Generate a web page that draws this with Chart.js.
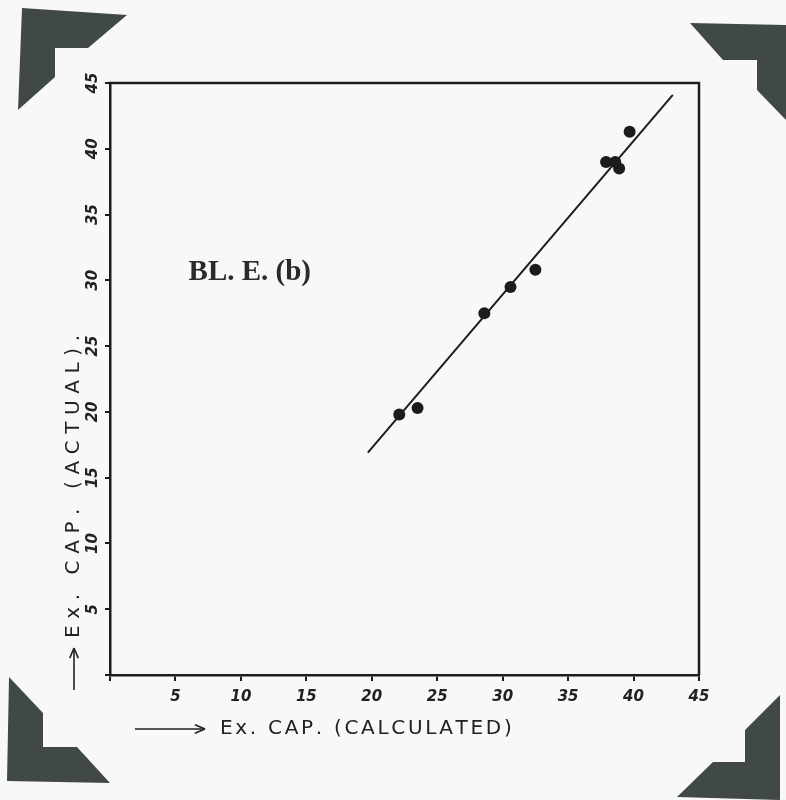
<!DOCTYPE html>
<html><head><meta charset="utf-8">
<script src="https://cdn.jsdelivr.net/npm/chart.js@4.4.1/dist/chart.umd.min.js"></script>
<style>
html,body{margin:0;padding:0;background:#f8f8f6;}
#wrap{position:relative;width:786px;height:800px;overflow:hidden;background:#f8f8f6;}
#c{position:absolute;left:0;top:0;}
.corner{position:absolute;left:0;top:0;width:786px;height:800px;background:#414944;pointer-events:none;}
</style></head><body>
<div id="wrap">
<canvas id="c" width="786" height="800"></canvas>
<div class="corner" style="clip-path:polygon(22px 8px,127px 15px,88px 48px,55px 48px,55px 77px,18px 110px)"></div>
<div class="corner" style="clip-path:polygon(690px 23px,786px 25px,786px 120px,757px 90px,757px 60px,723px 60px)"></div>
<div class="corner" style="clip-path:polygon(9px 677px,43px 713px,43px 747px,77px 747px,110px 783px,7px 781px)"></div>
<div class="corner" style="clip-path:polygon(780px 695px,780px 800px,677px 797px,713px 762px,745px 762px,745px 730px)"></div>
</div>
<script>
// ---- data ----
const calculated = [22.1, 23.5, 28.6, 30.6, 32.5, 37.9, 38.6, 38.9, 39.7];
const actual     = [19.8, 20.3, 27.5, 29.5, 30.8, 39.0, 39.0, 38.5, 41.3];
const fitX = [19.7, 43.0];
const fitY = [16.9, 44.1];
const axisMin = 0, axisMax = 45, axisStep = 5;
const xTitle = 'Ex. CAP. (CALCULATED)';
const yTitle = 'Ex. CAP. (ACTUAL).';
const plotLabel = 'BL. E. (b)';
const plotLabelAt = [6.0, 30.6];

const ink = '#1c1c1c';
const points = calculated.map((x, i) => ({x, y: actual[i]}));
const fitLine = fitX.map((x, i) => ({x, y: fitY[i]}));

function spacedText(ctx, text, x, y, spacing) {
  let cx = x;
  for (const ch of text) {
    ctx.fillText(ch, cx, y);
    cx += ctx.measureText(ch).width + spacing;
  }
  return cx;
}
function arrow(ctx, x1, y1, x2, y2) {
  const ang = Math.atan2(y2 - y1, x2 - x1);
  ctx.beginPath();
  ctx.moveTo(x1, y1); ctx.lineTo(x2, y2);
  ctx.stroke();
  ctx.beginPath();
  ctx.moveTo(x2, y2);
  ctx.lineTo(x2 - 11 * Math.cos(ang - 0.4), y2 - 11 * Math.sin(ang - 0.4));
  ctx.moveTo(x2, y2);
  ctx.lineTo(x2 - 11 * Math.cos(ang + 0.4), y2 - 11 * Math.sin(ang + 0.4));
  ctx.stroke();
}

const framePlugin = {
  id: 'frame',
  afterDraw(chart) {
    const {ctx, chartArea: a, scales} = chart;
    ctx.save();
    ctx.strokeStyle = ink;
    ctx.lineWidth = 2.5;
    ctx.beginPath();
    ctx.moveTo(a.left - 1, a.top);
    ctx.lineTo(a.right, a.top);
    ctx.lineTo(a.right, a.bottom);
    ctx.stroke();

    // plot label
    ctx.fillStyle = '#2a2a2a';
    ctx.font = 'bold 29px "Liberation Serif"';
    ctx.textBaseline = 'middle';
    ctx.textAlign = 'left';
    ctx.fillText(plotLabel, scales.x.getPixelForValue(plotLabelAt[0]), scales.y.getPixelForValue(plotLabelAt[1]));

    // axis titles
    ctx.fillStyle = '#222';
    ctx.strokeStyle = '#222';
    ctx.lineWidth = 1.6;
    ctx.font = '20px "DejaVu Sans"';
    const xy = a.bottom + 54;
    arrow(ctx, a.left + 25, xy, a.left + 95, xy);
    spacedText(ctx, xTitle, a.left + 110, xy, 2.7);

    const yx = a.left - 36;
    ctx.save();
    ctx.translate(yx, a.bottom + 15);
    ctx.rotate(-Math.PI / 2);
    arrow(ctx, 0, 0, 42, 0);
    spacedText(ctx, yTitle, 52, 0, 6.6);
    ctx.restore();
    ctx.restore();
  }
};

const tickFont = {family: 'DejaVu Sans', size: 15, style: 'italic', weight: 'bold'};

new Chart(document.getElementById('c'), {
  type: 'scatter',
  data: {
    datasets: [
      {data: fitLine, showLine: true, borderColor: ink, borderWidth: 2, pointRadius: 0, order: 2},
      {data: points, backgroundColor: ink, borderWidth: 0, pointRadius: 6, order: 1}
    ]
  },
  options: {
    responsive: false,
    animation: false,
    layout: {padding: {left: 15, top: 83, right: 87, bottom: 50}},
    plugins: {legend: {display: false}, tooltip: {enabled: false}},
    scales: {
      x: {
        type: 'linear', min: axisMin, max: axisMax,
        afterFit(s) { s.height = 75; },
        ticks: {stepSize: axisStep, maxRotation: 0, minRotation: 0, padding: 7, color: '#222', font: tickFont,
                callback: v => v === 0 ? '' : String(v)},
        grid: {drawOnChartArea: false, drawTicks: true, tickLength: 6, color: ink, lineWidth: 2},
        border: {display: true, color: ink, width: 2.5},
        title: {display: false}
      },
      y: {
        type: 'linear', min: axisMin, max: axisMax,
        afterFit(s) { s.width = 95; },
        ticks: {stepSize: axisStep, minRotation: 90, maxRotation: 90, crossAlign: 'center', padding: 1, color: '#222', font: tickFont,
                callback: v => v === 0 ? '' : String(v)},
        grid: {drawOnChartArea: false, drawTicks: true, tickLength: 5, color: ink, lineWidth: 2},
        border: {display: true, color: ink, width: 2.5},
        title: {display: false}
      }
    }
  },
  plugins: [framePlugin]
});
</script>
</body></html>
